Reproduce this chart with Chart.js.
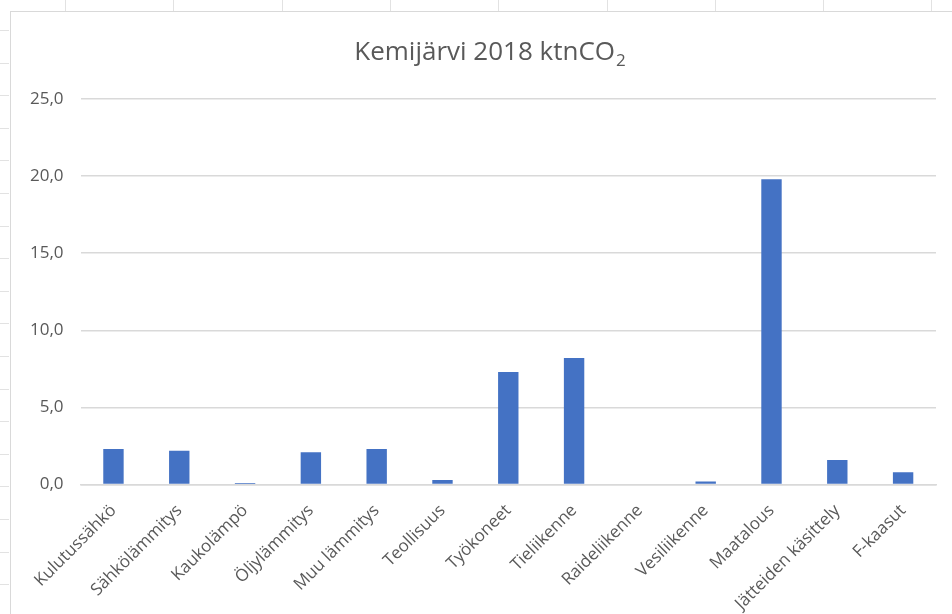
<!DOCTYPE html>
<html lang="fi">
<head>
<meta charset="utf-8">
<title>Kemijärvi 2018 ktnCO₂</title>
<script src="https://cdn.jsdelivr.net/npm/chart.js@4.4.1/dist/chart.umd.min.js"></script>
<style>
    html, body {
        margin: 0;
        padding: 0;
        width: 952px;
        height: 614px;
        overflow: hidden;
        background-color: #ffffff;
        /* sheet cell lines peeking out around the chart object */
        background-image:
            repeating-linear-gradient(90deg, transparent 0 65px, #e2e2e2 65px 66px, transparent 66px 108.3px),
            repeating-linear-gradient(180deg, transparent 0 30px, #e2e2e2 30px 31px, transparent 31px 32.6px);
        background-size: 100% 11px, 9px 100%;
        background-repeat: no-repeat;
    }
    #chartBox {
        position: absolute;
        left: 10px;
        top: 11px;
        width: 942px;
        height: 618px;
        background: #ffffff;
        border-left: 1.5px solid #d9d9d9;
        border-top: 1.5px solid #d9d9d9;
    }
</style>
</head>
<body>
<div id="chartBox"><canvas id="emissionChart"></canvas></div>
<script>
// Päästöt sektoreittain, kt CO2
const sectors = [
    'Kulutussähkö', 'Sähkölämmitys', 'Kaukolämpö', 'Öljylämmitys', 'Muu lämmitys',
    'Teollisuus', 'Työkoneet', 'Tieliikenne', 'Raideliikenne', 'Vesiliikenne',
    'Maatalous', 'Jätteiden käsittely', 'F-kaasut'
];
const emissions = [2.3, 2.2, 0.1, 2.1, 2.3, 0.3, 7.3, 8.2, 0.0, 0.2, 19.8, 1.6, 0.8];
const yTicks = [0, 5, 10, 15, 20, 25];

const titleMain = 'Kemijärvi 2018 ktnCO';
const titleSub = '2';
const barColor = '#4472c4';
const textColor = '#595959';
const gridColor = '#d9d9d9';
const fontFamily = 'Open Sans';

// Title with a real subscript, which the built-in title plugin can't do
const subscriptTitle = {
    id: 'subscriptTitle',
    afterDraw(chart) {
        const c = chart.ctx;
        c.save();
        c.fillStyle = textColor;
        c.textBaseline = 'alphabetic';
        c.textAlign = 'left';
        c.font = `26px "${fontFamily}"`;
        const wMain = c.measureText(titleMain).width;
        c.font = `17px "${fontFamily}"`;
        const wSub = c.measureText(titleSub).width;
        const x0 = chart.width / 2 + 8 - (wMain + wSub + 1) / 2;
        const baseline = 48;
        c.font = `26px "${fontFamily}"`;
        c.fillText(titleMain, x0, baseline);
        c.font = `17px "${fontFamily}"`;
        c.fillText(titleSub, x0 + wMain + 1, baseline + 6);
        c.restore();
    }
};

document.addEventListener('DOMContentLoaded', function() {
    const ctx = document.getElementById('emissionChart').getContext('2d');

    new Chart(ctx, {
        type: 'bar',
        data: {
            labels: sectors,
            datasets: [{
                label: titleMain + titleSub,
                data: emissions,
                backgroundColor: barColor,
                borderWidth: 0,
                barPercentage: 0.31,
                categoryPercentage: 1.0
            }]
        },
        options: {
            responsive: true,
            maintainAspectRatio: false,
            animation: false,
            layout: {
                padding: { left: 2, right: 17, top: 87, bottom: 0 }
            },
            plugins: {
                legend: { display: false },
                tooltip: { enabled: false },
                title: { display: false }
            },
            scales: {
                x: {
                    grid: { display: false, drawTicks: false },
                    border: { color: gridColor, width: 1.5 },
                    ticks: {
                        color: textColor,
                        font: { family: fontFamily, size: 17 },
                        minRotation: 45,
                        maxRotation: 45,
                        autoSkip: false,
                        padding: 16
                    }
                },
                y: {
                    min: yTicks[0],
                    max: yTicks[yTicks.length - 1],
                    afterBuildTicks: function(axis) {
                        axis.ticks = yTicks.map(v => ({ value: v }));
                    },
                    grid: { color: gridColor, lineWidth: 1.5, drawTicks: false },
                    border: { display: false },
                    ticks: {
                        color: textColor,
                        font: { family: fontFamily, size: 17 },
                        padding: 17,
                        callback: function(value) {
                            return value.toFixed(1).replace('.', ',');
                        }
                    }
                }
            }
        },
        plugins: [subscriptTitle]
    });
});
</script>
</body>
</html>
